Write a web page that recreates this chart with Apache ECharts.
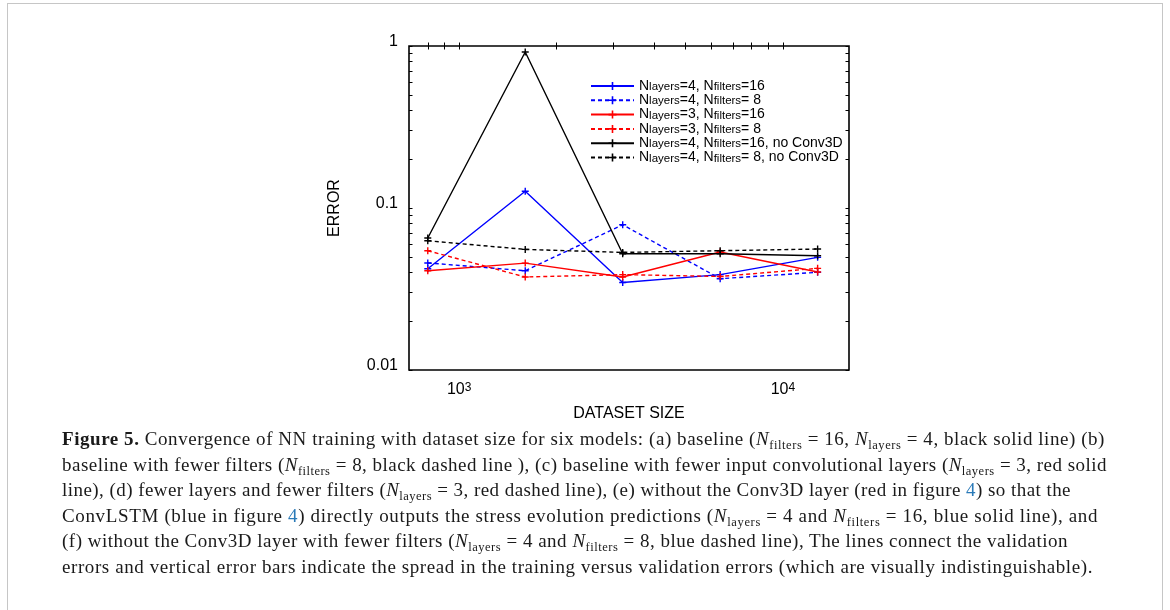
<!DOCTYPE html>
<html>
<head>
<meta charset="UTF-8">
<title>Figure 5</title>
<script src="https://cdn.jsdelivr.net/npm/echarts@6/dist/echarts.min.js"></script>
<style>
body{margin:0;background:#fff;}
#frame{position:absolute;left:7px;top:3px;width:1154px;height:700px;border:1.5px solid #c6c6c6;}
#show{position:absolute;left:0;top:0;width:1170px;height:430px;}
#caption{position:absolute;left:62px;top:426px;font-family:"Liberation Serif",serif;font-size:19px;line-height:25.6px;color:#1a1a1a;white-space:nowrap;}
#caption div{display:table;}
#caption sub{font-size:0.66em;line-height:0;vertical-align:-0.3em;}
#caption .ln{color:#2a7ab8;}
</style>
</head>
<body>
<div id="frame"></div>
<div id="show"></div>
<div id="caption">
<div><b>Figure 5.</b> Convergence of NN training with dataset size for six models: (a) baseline (<i>N</i><sub>filters</sub> = 16, <i>N</i><sub>layers</sub> = 4, black solid line) (b)</div>
<div>baseline with fewer filters (<i>N</i><sub>filters</sub> = 8, black dashed line ), (c) baseline with fewer input convolutional layers (<i>N</i><sub>layers</sub> = 3, red solid</div>
<div>line), (d) fewer layers and fewer filters (<i>N</i><sub>layers</sub> = 3, red dashed line), (e) without the Conv3D layer (red in figure <span class="ln">4</span>) so that the</div>
<div>ConvLSTM (blue in figure <span class="ln">4</span>) directly outputs the stress evolution predictions (<i>N</i><sub>layers</sub> = 4 and <i>N</i><sub>filters</sub> = 16, blue solid line), and</div>
<div>(f) without the Conv3D layer with fewer filters (<i>N</i><sub>layers</sub> = 4 and <i>N</i><sub>filters</sub> = 8, blue dashed line), The lines connect the validation</div>
<div>errors and vertical error bars indicate the spread in the training versus validation errors (which are visually indistinguishable).</div>
</div>

<script type="text/javascript">
// dataset sizes (x) and validation errors (y)
var sizes = [800, 1600, 3200, 6400, 12800];

var blueSolid   = [0.0422, 0.127, 0.0347, 0.0388, 0.0496];
var blueDashed  = [0.0458, 0.0410, 0.0788, 0.0366, 0.0401];
var redSolid    = [0.0410, 0.0457, 0.0375, 0.0535, 0.0403];
var redDashed   = [0.0545, 0.0375, 0.0388, 0.0378, 0.0424];
var blackSolid  = [0.0653, 0.918, 0.0522, 0.0522, 0.0507];
var blackDashed = [0.0628, 0.0555, 0.0532, 0.0545, 0.0558];

var seriesNames = [
	'N{s|layers}=4, N{s|filters}=16',
	'N{s|layers}=4, N{s|filters}= 8',
	'N{s|layers}=3, N{s|filters}=16',
	'N{s|layers}=3, N{s|filters}= 8',
	'N{s|layers}=4, N{s|filters}=16, no Conv3D',
	'N{s|layers}=4, N{s|filters}= 8, no Conv3D'
];

var xRange = [700, 16000];
var yRange = [0.01, 1];
var xTicks = [800, 900, 1000, 2000, 3000, 4000, 5000, 6000, 7000, 8000, 9000, 10000];
var xLabels = [1000, 10000];
var yTicks = [0.01, 0.02, 0.03, 0.04, 0.05, 0.06, 0.07, 0.08, 0.09,
	0.1, 0.2, 0.3, 0.4, 0.5, 0.6, 0.7, 0.8, 0.9, 1];
var yLabels = [0.01, 0.1, 1];

// right edge of each caption line in the reference
var captionEnds = [1105, 1107, 1071, 1098, 1068, 1093];

var plus = 'path://M4,0h2v4h4v2h-4v4h-2v-4h-4v-2h4z';
var font = 'Liberation Sans';

function mkSeries(name, vals, color, dashed) {
	return {
		name: name,
		type: 'line',
		xAxisIndex: 0,
		yAxisIndex: 0,
		data: sizes.map(function (x, i) { return [x, vals[i]]; }),
		symbol: plus,
		symbolSize: 7,
		showAllSymbol: true,
		itemStyle: { color: color },
		lineStyle: { color: color, width: 1.4, type: dashed ? [4, 3] : 'solid' },
		animation: false
	};
}

// helper axes in log10 space: they only carry ticks and labels
function tickAxis(pos, range, ticks, labels, fmt, extra) {
	var a = {
		type: 'value',
		position: pos,
		min: Math.log10(range[0]),
		max: Math.log10(range[1]),
		axisLine: { show: false },
		splitLine: { show: false },
		axisTick: {
			show: true, inside: true, length: 3.5,
			customValues: ticks.map(Math.log10),
			lineStyle: { color: '#000', width: 1 }
		},
		axisLabel: { show: false }
	};
	if (labels) {
		a.axisLabel = {
			show: true,
			customValues: labels.map(Math.log10),
			formatter: fmt,
			fontFamily: font,
			fontSize: 16,
			color: '#000'
		};
	}
	for (var k in extra) a[k] = extra[k];
	return a;
}

var myChart = echarts.init(document.getElementById('show'));

var option = {
	animation: false,
	grid: {
		left: 409, top: 46, width: 440, height: 324,
		show: true, borderColor: '#000', borderWidth: 1.6,
		backgroundColor: 'transparent'
	},
	legend: {
		data: seriesNames,
		orient: 'vertical',
		left: 590,
		top: 79,
		padding: 0,
		itemWidth: 43,
		itemHeight: 10,
		itemGap: 0.3,
		textStyle: {
			fontFamily: font, fontSize: 14, color: '#000', lineHeight: 14,
			rich: { s: { fontFamily: font, fontSize: 11.5, lineHeight: 4, verticalAlign: 'bottom', color: '#000' } }
		}
	},
	xAxis: [
		{ type: 'log', logBase: 10, min: xRange[0], max: xRange[1], show: false },
		tickAxis('bottom', xRange, xTicks, xLabels, function (v) {
			return '10{sup|' + Math.round(v) + '}';
		}, {
			name: 'DATASET SIZE', nameLocation: 'middle', nameGap: 36,
			nameTextStyle: { fontFamily: font, fontSize: 16, color: '#000' }
		}),
		tickAxis('top', xRange, xTicks, null)
	],
	yAxis: [
		{ type: 'log', logBase: 10, min: yRange[0], max: yRange[1], show: false },
		tickAxis('left', yRange, yTicks, yLabels, function (v) {
			return String(Math.pow(10, Math.round(v)));
		}, {
			name: 'ERROR', nameLocation: 'middle', nameGap: 66, nameRotate: 90,
			nameTextStyle: { fontFamily: font, fontSize: 16, color: '#000' }
		}),
		tickAxis('right', yRange, yTicks, null)
	],
	series: [
		mkSeries(seriesNames[0], blueSolid, '#0000ff', false),
		mkSeries(seriesNames[1], blueDashed, '#0000ff', true),
		mkSeries(seriesNames[2], redSolid, '#ff0000', false),
		mkSeries(seriesNames[3], redDashed, '#ff0000', true),
		mkSeries(seriesNames[4], blackSolid, '#000000', false),
		mkSeries(seriesNames[5], blackDashed, '#000000', true)
	]
};

// superscripts on the x labels, labels sit a little above the y ticks
option.xAxis[1].axisLabel.margin = 12;
option.xAxis[1].axisLabel.lineHeight = 16;
option.xAxis[1].axisLabel.rich = {
	sup: { fontFamily: font, fontSize: 12, lineHeight: 6, verticalAlign: 'top', color: '#000' }
};
option.yAxis[1].axisLabel.margin = 11;
option.yAxis[1].axisLabel.verticalAlign = 'bottom';
option.yAxis[1].axisLabel.lineHeight = 9;

myChart.setOption(option);

// stretch caption lines so their ends meet the reference
var lines = document.querySelectorAll('#caption div');
for (var i = 0; i < lines.length; i++) {
	var el = lines[i];
	var w = el.getBoundingClientRect().width;
	var n = el.textContent.length;
	var target = captionEnds[i] - 62;
	el.style.letterSpacing = ((target - w) / n) + 'px';
}
</script>
</body>
</html>
